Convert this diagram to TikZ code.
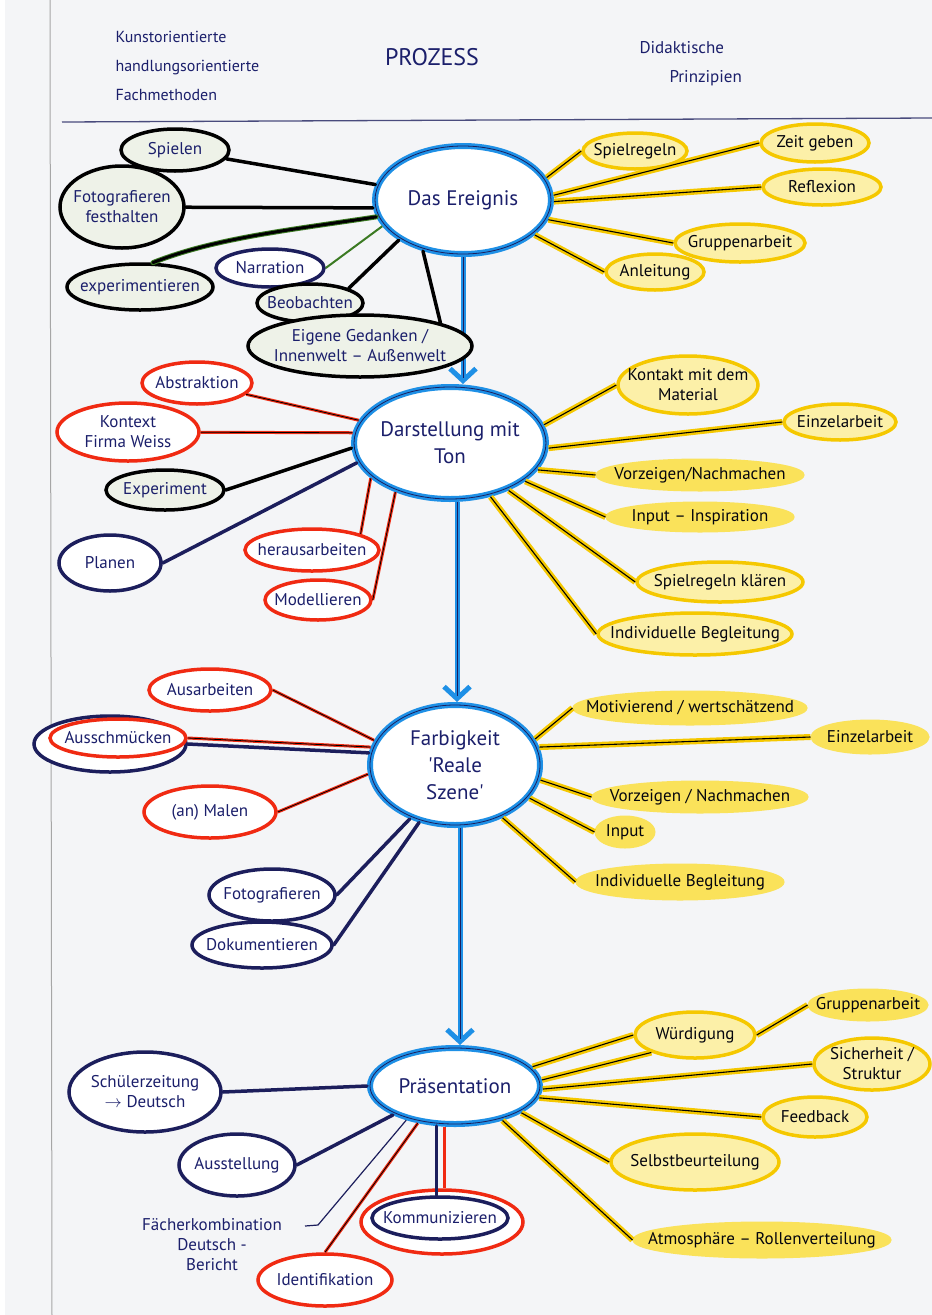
\documentclass[tikz,border=0pt]{standalone}
\usepackage{fontspec}
\setmainfont{PT Sans}
\usetikzlibrary{shapes.geometric,arrows.meta}
\definecolor{bgc}{HTML}{F4F5F7}
\definecolor{cblue}{HTML}{1E90E6}
\definecolor{navy}{HTML}{1C1E5C}
\definecolor{pred}{HTML}{F02A12}
\definecolor{pyel}{HTML}{F5C800}
\definecolor{pyelL}{HTML}{FCF0A8}
\definecolor{pyelF}{HTML}{FAE25A}
\definecolor{pgreen}{HTML}{3B7A22}
\definecolor{gfill}{HTML}{EEF2E8}
\definecolor{ink}{HTML}{1B1F6B}
\tikzset{
  base/.style={ellipse, inner sep=0pt},
  central/.style={base, draw=cblue, line width=6pt, fill=white,
    postaction={draw=navy, line width=0.8pt}},
  blk/.style={base, draw=black, line width=3.5pt, fill=gfill},
  nvy/.style={base, draw=navy, line width=3.5pt, fill=white},
  rd/.style={base, draw=pred, line width=3.5pt, fill=white},
  yl/.style={base, draw=pyel, line width=3.5pt, fill=pyelL},
  yf/.style={base, draw=pyelF, line width=3pt, fill=pyelF},
  navytxt/.style={text=ink, align=center, font=\fontsize{17}{20}\selectfont},
  blacktxt/.style={text=black!85!navy, align=center, font=\fontsize{17}{20}\selectfont},
  bigtxt/.style={text=ink, align=center, font=\fontsize{21}{27}\selectfont},
  bline/.style={draw=black, line width=3.5pt, line cap=round},
  gbline/.style={draw=pgreen, line width=5pt, line cap=round, postaction={draw=black, line width=3pt}},
  nline/.style={draw=navy, line width=3.5pt, line cap=round},
  rline/.style={draw=pred, line width=3pt, postaction={draw=black, line width=0.8pt}},
  gline/.style={draw=pgreen, line width=2pt},
  yline/.style={draw=pyel, line width=6pt, postaction={draw=black, line width=1.1pt}},
  thinnavy/.style={draw=navy, line width=1.2pt},
  flow/.style={draw=cblue, line width=5pt, -{Straight Barb[length=12pt, width=26pt]},
    postaction={draw=navy, line width=0.8pt, -, shorten >=6pt}},
}
\newcommand\mmbub[8][navytxt]{%
  \node[#2, minimum width=#6pt, minimum height=#7pt] (#3) at (#4,#5) {};
  \node[#1] (#3-t) at (#3.center) {#8};}
\begin{document}
\begin{tikzpicture}[x=1pt,y=-1pt]
\path[use as bounding box, fill=bgc] (0,0) rectangle (932,1315);
\fill[white] (0,0) rectangle (5,1315);
\clip (0,0) rectangle (932,1315);
\draw[gray!70, line width=1pt] (50,0) -- (52,1315);

% header
\node[anchor=north west, text=ink, align=left, font=\fontsize{16}{29}\selectfont] (hl) at (112,28)
  {Kunstorientierte\\handlungsorientierte\\Fachmethoden};
\node[text=ink, font=\fontsize{24}{28}\selectfont] (hm) at (432,57) {PROZESS};
\node[anchor=north west, text=ink, align=left, font=\fontsize{17}{29}\selectfont] (hr) at (636,38)
  {Didaktische\\\hspace*{30pt}Prinzipien};
\coordinate (hlineA) at (62,122);
\coordinate (hlineB) at (932,118);
\draw[navy!80, line width=1.3pt] (hlineA) -- (hlineB);

% central nodes
\mmbub[bigtxt]{central}{ev}{463}{200}{176}{108}{Das Ereignis}
\mmbub[bigtxt]{central}{ton}{450}{443}{192}{112}{Darstellung mit\\Ton}
\mmbub[bigtxt]{central}{farb}{455}{765}{170}{120}{Farbigkeit\\\textquotesingle Reale\\Szene\textquotesingle}
\mmbub[bigtxt]{central}{praes}{455}{1086}{170}{76}{Präsentation}

\draw[flow] (ev.south) -- (ev.south |- ton.north);
\draw[flow] (ton.south -| 457,0) -- (farb.north -| 457,0);
\draw[flow] (farb.south -| 460,0) -- (praes.north -| 460,0);

% Das Ereignis - left
\mmbub{blk}{spielen}{175}{150}{108}{42}{Spielen}
\mmbub{blk}{foto}{122}{207}{124}{82}{Fotografieren\\festhalten}
\mmbub{blk}{expe}{140}{287}{146}{46}{experimentieren}
\mmbub{nvy}{narr}{270}{268}{108}{38}{Narration}
\mmbub{blk}{beob}{310}{303}{106}{38}{Beobachten}
\mmbub{blk}{eig}{360}{346}{224}{62}{Eigene Gedanken /\\Innenwelt – Außenwelt}

\draw[bline] (ev.170) -- (spielen);
\draw[bline] (ev.185) -- (foto);
\draw[gbline] (ev.191) .. controls (290,230) and (215,238) .. (expe.62);
\draw[gline] (ev.198) -- (narr.east);
\draw[bline] (ev.212) -- (beob.north east);
\draw[bline] (ev.232) -- (eig.north east);

% Das Ereignis - right
\mmbub[blacktxt]{yl}{e1}{635}{151}{104}{36}{Spielregeln}
\mmbub[blacktxt]{yl}{e2}{815}{143}{108}{38}{Zeit geben}
\mmbub[blacktxt]{yl}{e3}{822}{187}{118}{36}{Reflexion}
\mmbub[blacktxt]{yl}{e4}{740}{243}{130}{38}{Gruppenarbeit}
\mmbub[blacktxt]{yl}{e5}{655}{272}{98}{36}{Anleitung}

\draw[yline] (ev.15) -- (e1.west);
\draw[yline] (ev.3) -- (e2.west);
\draw[yline] (ev.-1) -- (e3.west);
\draw[yline] (ev.-13) -- (e4.west);
\draw[yline] (ev.-26) -- (e5.west);

% Darstellung mit Ton - left
\mmbub{rd}{abst}{197}{383}{110}{42}{Abstraktion}
\mmbub{rd}{kont}{128}{432}{142}{58}{Kontext\\Firma Weiss}
\mmbub{blk}{expt}{165}{490}{118}{40}{Experiment}
\mmbub{nvy}{plan}{110}{563}{102}{56}{Planen}
\mmbub{rd}{hera}{312}{550}{134}{42}{herausarbeiten}
\mmbub{rd}{mode}{318}{600}{106}{40}{Modellieren}

\draw[rline] (ton.166) -- (abst);
\draw[rline] (ton.174) -- (kont);
\draw[bline] (ton.183) -- (expt.east);
\draw[nline] (ton.192) -- (plan.east);
\draw[rline] (ton.204) -- (hera.north east);
\draw[rline] (ton.222) -- (mode.east);

% Darstellung mit Ton - right
\mmbub[blacktxt]{yl}{t1}{688}{385}{140}{58}{Kontakt mit dem\\Material}
\mmbub[blacktxt]{yl}{t2}{840}{422}{112}{36}{Einzelarbeit}
\mmbub[blacktxt]{yf}{t3}{700}{475}{206}{30}{Vorzeigen/Nachmachen}
\mmbub[blacktxt]{yf}{t4}{700}{517}{186}{28}{Input – Inspiration}
\mmbub[blacktxt]{yl}{t5}{720}{582}{166}{40}{Spielregeln klären}
\mmbub[blacktxt]{yl}{t6}{695}{634}{194}{42}{Individuelle Begleitung}

\draw[yline] (ton.11) -- (t1.west);
\draw[yline] (ton.-3) -- (t2.west);
\draw[yline] (ton.-17) -- (t3.west);
\draw[yline] (ton.-27) -- (t4.west);
\draw[yline] (ton.-39) -- (t5.west);
\draw[yline] (ton.-53) -- (t6.west);

% Farbigkeit - left
\mmbub{rd}{ausa}{210}{690}{122}{42}{Ausarbeiten}
\node[nvy, minimum width=152pt, minimum height=56pt] (ausso) at (110,744) {};
\mmbub{rd}{auss}{118}{738}{136}{38}{Ausschmücken}
\mmbub{rd}{malen}{210}{812}{132}{52}{(an) Malen}
\mmbub{nvy}{fotog}{272}{895}{126}{52}{Fotografieren}
\mmbub{nvy}{doku}{262}{945}{140}{46}{Dokumentieren}

\draw[rline] (farb.163) -- (ausa.east);
\draw[rline] (farb.168) -- (auss.east);
\draw[nline] (farb.172) -- (ausso.east);
\draw[rline] (farb.186) -- (malen.east);
\draw[nline] (farb.230) -- (fotog.east);
\draw[nline] (farb.238) -- (doku.east);

% Farbigkeit - right
\mmbub[blacktxt]{yf}{f1}{690}{708}{232}{32}{Motivierend / wertschätzend}
\mmbub[blacktxt]{yf}{f2}{870}{737}{116}{32}{Einzelarbeit}
\mmbub[blacktxt]{yf}{f3}{700}{797}{214}{30}{Vorzeigen / Nachmachen}
\mmbub[blacktxt]{yf}{f4}{625}{832}{58}{30}{Input}
\mmbub[blacktxt]{yf}{f5}{680}{882}{206}{34}{Individuelle Begleitung}

\draw[yline] (farb.18) -- (f1.west);
\draw[yline] (farb.12) -- (f2.west);
\draw[yline] (farb.-10) -- (f3.west);
\draw[yline] (farb.-24) -- (f4.west);
\draw[yline] (farb.-48) -- (f5.west);

% Präsentation - left
\mmbub{nvy}{schue}{145}{1092}{152}{80}{Schülerzeitung\\$\rightarrow$ Deutsch}
\mmbub{nvy}{ausst}{237}{1165}{116}{62}{Ausstellung}
\node[navytxt] (faech) at (212,1245) {Fächerkombination\\Deutsch -\\Bericht};
\coordinate (faechE) at (318,1225);
\coordinate (faechS) at (305,1226);
\mmbub{rd}{ident}{325}{1280}{134}{52}{Identifikation}
\node[rd, minimum width=162pt, minimum height=64pt] (kommo) at (442,1222) {};
\mmbub{nvy}{komm}{440}{1218}{136}{42}{Kommunizieren}

\draw[nline] (praes.180) -- (schue.east);
\draw[nline] (praes.205) -- (ausst.east);
\draw[thinnavy] (faechS) -- (faechE) -- (praes.215);
\draw[rline] (praes.225) -- (ident.north);
\draw[draw=pred, line width=3pt] (praes.255) -- (praes.255 |- kommo.north);
\draw[nline] (praes.245) -- (praes.245 |- komm.north);

% Präsentation - right
\mmbub[blacktxt]{yl}{p1}{695}{1035}{120}{46}{Würdigung}
\mmbub[blacktxt]{yf}{p2}{868}{1005}{118}{30}{Gruppenarbeit}
\mmbub[blacktxt]{yl}{p3}{872}{1064}{116}{52}{Sicherheit /\\Struktur}
\mmbub[blacktxt]{yl}{p4}{815}{1117}{104}{40}{Feedback}
\mmbub[blacktxt]{yl}{p5}{695}{1162}{168}{56}{Selbstbeurteilung}
\mmbub[blacktxt]{yf}{p6}{762}{1240}{256}{34}{Atmosphäre – Rollenverteilung}

\draw[yline] (praes.14) -- (p1.west);
\draw[yline] (praes.4) -- (p1.south west);
\draw[yline] (p1.east) -- (p2.west);
\draw[yline] (praes.-2) -- (p3.west);
\draw[yline] (praes.-8) -- (p4.west);
\draw[yline] (praes.-22) -- (p5.west);
\draw[yline] (praes.-36) -- (p6.west);
\end{tikzpicture}
\end{document}
